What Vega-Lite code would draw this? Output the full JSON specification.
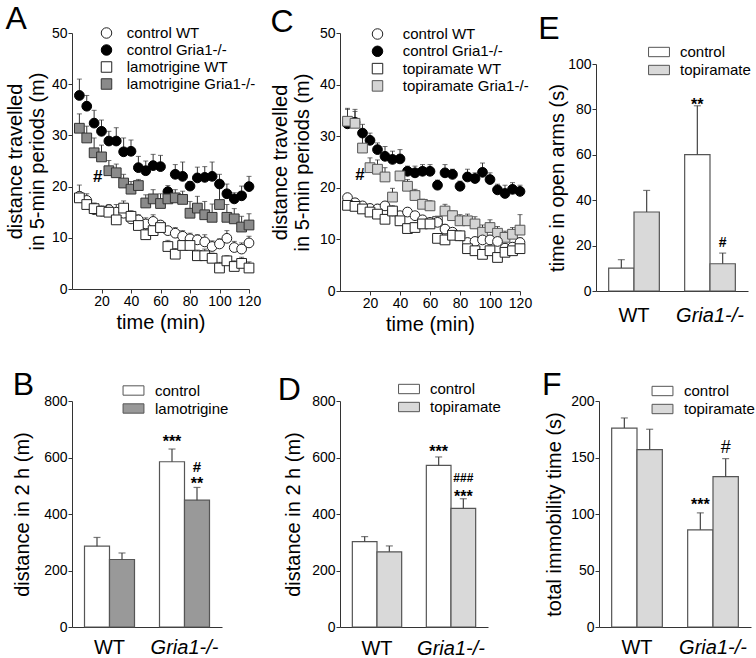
{
"$schema": "https://vega.github.io/schema/vega-lite/v6.json",
"background": "white",
"padding": {"left": 5, "top": 2, "right": 2, "bottom": 2},
"config": {
 "view": {"stroke": null},
 "font": "Liberation Sans",
 "axis": {"grid": false, "domainColor": "#333", "tickColor": "#333", "tickSize": 4, "labelFontSize": 14, "labelPadding": 1, "labelColor": "#000", "labelOverlap": false, "labelFlush": false, "titleFontSize": 20, "titleFontWeight": "normal", "titleColor": "#000", "labelFont": "Liberation Sans", "titleFont": "Liberation Sans"},
 "title": {"fontSize": 32, "fontWeight": "normal", "anchor": "start", "frame": "bounds", "font": "Liberation Sans", "color": "#000"},
 "legend": {"title": null, "orient": "none", "padding": 0, "offset": 0, "labelFontSize": 15, "labelFont": "Liberation Sans", "labelColor": "#000", "symbolOpacity": 1}
},
"datasets": {
 "A": [
  {"t":5,"m":37.8,"hi":41.0,"s":"control Gria1-/-"},{"t":10,"m":35.7,"hi":37.8,"s":"control Gria1-/-"},{"t":15,"m":32.4,"hi":34.9,"s":"control Gria1-/-"},{"t":20,"m":30.8,"hi":33.0,"s":"control Gria1-/-"},{"t":25,"m":28.9,"hi":30.8,"s":"control Gria1-/-"},{"t":30,"m":28.9,"hi":31.5,"s":"control Gria1-/-"},{"t":35,"m":26.8,"hi":29.5,"s":"control Gria1-/-"},{"t":40,"m":26.9,"hi":29.1,"s":"control Gria1-/-"},{"t":45,"m":23.7,"hi":25.9,"s":"control Gria1-/-"},{"t":50,"m":23.1,"hi":25.0,"s":"control Gria1-/-"},{"t":55,"m":24.1,"hi":26.3,"s":"control Gria1-/-"},{"t":60,"m":23.9,"hi":26.1,"s":"control Gria1-/-"},{"t":65,"m":19.0,"hi":20.2,"s":"control Gria1-/-"},{"t":70,"m":22.4,"hi":24.3,"s":"control Gria1-/-"},{"t":75,"m":22.0,"hi":24.8,"s":"control Gria1-/-"},{"t":80,"m":20.1,"hi":21.0,"s":"control Gria1-/-"},{"t":85,"m":21.7,"hi":23.8,"s":"control Gria1-/-"},{"t":90,"m":21.8,"hi":23.9,"s":"control Gria1-/-"},{"t":95,"m":22.0,"hi":24.8,"s":"control Gria1-/-"},{"t":100,"m":20.5,"hi":22.4,"s":"control Gria1-/-"},{"t":105,"m":18.6,"hi":20.5,"s":"control Gria1-/-"},{"t":110,"m":17.6,"hi":18.8,"s":"control Gria1-/-"},{"t":115,"m":18.2,"hi":20.1,"s":"control Gria1-/-"},{"t":120,"m":20.0,"hi":22.0,"s":"control Gria1-/-"},
  {"t":5,"m":31.4,"hi":34.2,"s":"lamotrigine Gria1-/-"},{"t":10,"m":29.5,"hi":31.8,"s":"lamotrigine Gria1-/-"},{"t":15,"m":26.6,"hi":29.5,"s":"lamotrigine Gria1-/-"},{"t":20,"m":25.8,"hi":28.1,"s":"lamotrigine Gria1-/-"},{"t":25,"m":23.1,"hi":25.1,"s":"lamotrigine Gria1-/-"},{"t":30,"m":22.7,"hi":24.4,"s":"lamotrigine Gria1-/-"},{"t":35,"m":20.7,"hi":22.4,"s":"lamotrigine Gria1-/-"},{"t":40,"m":19.5,"hi":21.0,"s":"lamotrigine Gria1-/-"},{"t":45,"m":20.2,"hi":21.4,"s":"lamotrigine Gria1-/-"},{"t":50,"m":16.8,"hi":18.4,"s":"lamotrigine Gria1-/-"},{"t":55,"m":17.6,"hi":19.4,"s":"lamotrigine Gria1-/-"},{"t":60,"m":16.7,"hi":18.6,"s":"lamotrigine Gria1-/-"},{"t":65,"m":17.6,"hi":19.1,"s":"lamotrigine Gria1-/-"},{"t":70,"m":17.8,"hi":19.4,"s":"lamotrigine Gria1-/-"},{"t":75,"m":17.5,"hi":19.1,"s":"lamotrigine Gria1-/-"},{"t":80,"m":14.8,"hi":17.1,"s":"lamotrigine Gria1-/-"},{"t":85,"m":15.8,"hi":18.1,"s":"lamotrigine Gria1-/-"},{"t":90,"m":14.5,"hi":17.1,"s":"lamotrigine Gria1-/-"},{"t":95,"m":14.0,"hi":16.6,"s":"lamotrigine Gria1-/-"},{"t":100,"m":16.5,"hi":19.7,"s":"lamotrigine Gria1-/-"},{"t":105,"m":14.0,"hi":16.5,"s":"lamotrigine Gria1-/-"},{"t":110,"m":13.7,"hi":15.7,"s":"lamotrigine Gria1-/-"},{"t":115,"m":12.1,"hi":14.2,"s":"lamotrigine Gria1-/-"},{"t":120,"m":12.5,"hi":14.7,"s":"lamotrigine Gria1-/-"},
  {"t":5,"m":18.1,"hi":20.3,"s":"control WT"},{"t":10,"m":17.3,"hi":18.6,"s":"control WT"},{"t":15,"m":15.5,"hi":16.8,"s":"control WT"},{"t":20,"m":15.2,"hi":16.1,"s":"control WT"},{"t":25,"m":15.5,"hi":16.5,"s":"control WT"},{"t":30,"m":15.0,"hi":16.5,"s":"control WT"},{"t":35,"m":14.8,"hi":15.8,"s":"control WT"},{"t":40,"m":13.7,"hi":14.6,"s":"control WT"},{"t":45,"m":13.5,"hi":14.5,"s":"control WT"},{"t":50,"m":12.7,"hi":13.9,"s":"control WT"},{"t":55,"m":13.2,"hi":14.5,"s":"control WT"},{"t":60,"m":12.5,"hi":13.3,"s":"control WT"},{"t":65,"m":11.4,"hi":12.2,"s":"control WT"},{"t":70,"m":10.9,"hi":12.0,"s":"control WT"},{"t":75,"m":10.3,"hi":11.4,"s":"control WT"},{"t":80,"m":9.8,"hi":10.9,"s":"control WT"},{"t":85,"m":9.6,"hi":10.6,"s":"control WT"},{"t":90,"m":9.2,"hi":10.6,"s":"control WT"},{"t":95,"m":8.3,"hi":9.4,"s":"control WT"},{"t":100,"m":8.8,"hi":9.8,"s":"control WT"},{"t":105,"m":9.9,"hi":11.4,"s":"control WT"},{"t":110,"m":8.1,"hi":9.3,"s":"control WT"},{"t":115,"m":7.8,"hi":9.0,"s":"control WT"},{"t":120,"m":9.0,"hi":10.3,"s":"control WT"},
  {"t":5,"m":17.8,"hi":19.0,"s":"lamotrigine WT"},{"t":10,"m":16.5,"hi":17.6,"s":"lamotrigine WT"},{"t":15,"m":15.7,"hi":16.7,"s":"lamotrigine WT"},{"t":20,"m":15.2,"hi":16.2,"s":"lamotrigine WT"},{"t":25,"m":15.0,"hi":16.0,"s":"lamotrigine WT"},{"t":30,"m":13.5,"hi":14.8,"s":"lamotrigine WT"},{"t":35,"m":15.8,"hi":17.2,"s":"lamotrigine WT"},{"t":40,"m":14.2,"hi":15.3,"s":"lamotrigine WT"},{"t":45,"m":12.4,"hi":13.5,"s":"lamotrigine WT"},{"t":50,"m":10.6,"hi":11.8,"s":"lamotrigine WT"},{"t":55,"m":11.4,"hi":12.8,"s":"lamotrigine WT"},{"t":60,"m":12.0,"hi":13.2,"s":"lamotrigine WT"},{"t":65,"m":8.3,"hi":9.5,"s":"lamotrigine WT"},{"t":70,"m":6.8,"hi":7.9,"s":"lamotrigine WT"},{"t":75,"m":8.5,"hi":9.8,"s":"lamotrigine WT"},{"t":80,"m":8.5,"hi":9.6,"s":"lamotrigine WT"},{"t":85,"m":6.5,"hi":7.6,"s":"lamotrigine WT"},{"t":90,"m":6.5,"hi":7.8,"s":"lamotrigine WT"},{"t":95,"m":6.0,"hi":7.0,"s":"lamotrigine WT"},{"t":100,"m":4.1,"hi":5.2,"s":"lamotrigine WT"},{"t":105,"m":5.5,"hi":6.5,"s":"lamotrigine WT"},{"t":110,"m":4.4,"hi":5.5,"s":"lamotrigine WT"},{"t":115,"m":5.0,"hi":6.2,"s":"lamotrigine WT"},{"t":120,"m":4.1,"hi":5.3,"s":"lamotrigine WT"}
 ],
 "C": [
  {"t":5,"m":32.4,"hi":35.4,"s":"control Gria1-/-"},{"t":10,"m":32.7,"hi":35.2,"s":"control Gria1-/-"},{"t":15,"m":30.6,"hi":32.3,"s":"control Gria1-/-"},{"t":20,"m":29.2,"hi":30.6,"s":"control Gria1-/-"},{"t":25,"m":27.4,"hi":28.7,"s":"control Gria1-/-"},{"t":30,"m":26.1,"hi":28.0,"s":"control Gria1-/-"},{"t":35,"m":25.5,"hi":27.1,"s":"control Gria1-/-"},{"t":40,"m":25.6,"hi":27.4,"s":"control Gria1-/-"},{"t":45,"m":23.2,"hi":24.2,"s":"control Gria1-/-"},{"t":50,"m":22.9,"hi":24.2,"s":"control Gria1-/-"},{"t":55,"m":23.2,"hi":24.5,"s":"control Gria1-/-"},{"t":60,"m":23.2,"hi":24.5,"s":"control Gria1-/-"},{"t":65,"m":20.5,"hi":21.5,"s":"control Gria1-/-"},{"t":70,"m":22.9,"hi":24.5,"s":"control Gria1-/-"},{"t":75,"m":22.6,"hi":23.6,"s":"control Gria1-/-"},{"t":80,"m":20.3,"hi":21.3,"s":"control Gria1-/-"},{"t":85,"m":22.1,"hi":23.6,"s":"control Gria1-/-"},{"t":90,"m":21.8,"hi":22.9,"s":"control Gria1-/-"},{"t":95,"m":23.0,"hi":24.8,"s":"control Gria1-/-"},{"t":100,"m":21.6,"hi":22.9,"s":"control Gria1-/-"},{"t":105,"m":19.6,"hi":20.7,"s":"control Gria1-/-"},{"t":110,"m":18.9,"hi":20.5,"s":"control Gria1-/-"},{"t":115,"m":19.7,"hi":21.0,"s":"control Gria1-/-"},{"t":120,"m":19.3,"hi":20.5,"s":"control Gria1-/-"},
  {"t":5,"m":32.9,"hi":35.2,"s":"topiramate Gria1-/-"},{"t":10,"m":32.5,"hi":34.8,"s":"topiramate Gria1-/-"},{"t":15,"m":27.7,"hi":30.3,"s":"topiramate Gria1-/-"},{"t":20,"m":23.9,"hi":25.8,"s":"topiramate Gria1-/-"},{"t":25,"m":23.6,"hi":25.4,"s":"topiramate Gria1-/-"},{"t":30,"m":22.1,"hi":23.9,"s":"topiramate Gria1-/-"},{"t":35,"m":18.2,"hi":19.9,"s":"topiramate Gria1-/-"},{"t":40,"m":22.3,"hi":23.0,"s":"topiramate Gria1-/-"},{"t":45,"m":20.3,"hi":21.6,"s":"topiramate Gria1-/-"},{"t":50,"m":18.5,"hi":19.7,"s":"topiramate Gria1-/-"},{"t":55,"m":16.8,"hi":17.8,"s":"topiramate Gria1-/-"},{"t":60,"m":16.5,"hi":17.5,"s":"topiramate Gria1-/-"},{"t":65,"m":13.5,"hi":14.5,"s":"topiramate Gria1-/-"},{"t":70,"m":15.5,"hi":16.8,"s":"topiramate Gria1-/-"},{"t":75,"m":14.6,"hi":15.5,"s":"topiramate Gria1-/-"},{"t":80,"m":13.6,"hi":14.8,"s":"topiramate Gria1-/-"},{"t":85,"m":13.6,"hi":14.9,"s":"topiramate Gria1-/-"},{"t":90,"m":13.0,"hi":14.4,"s":"topiramate Gria1-/-"},{"t":95,"m":11.4,"hi":12.8,"s":"topiramate Gria1-/-"},{"t":100,"m":12.3,"hi":13.8,"s":"topiramate Gria1-/-"},{"t":105,"m":11.2,"hi":12.5,"s":"topiramate Gria1-/-"},{"t":110,"m":10.4,"hi":11.6,"s":"topiramate Gria1-/-"},{"t":115,"m":11.0,"hi":12.3,"s":"topiramate Gria1-/-"},{"t":120,"m":11.8,"hi":14.8,"s":"topiramate Gria1-/-"},
  {"t":5,"m":18.1,"hi":18.9,"s":"control WT"},{"t":10,"m":17.1,"hi":17.9,"s":"control WT"},{"t":15,"m":16.5,"hi":17.3,"s":"control WT"},{"t":20,"m":16.0,"hi":16.8,"s":"control WT"},{"t":25,"m":15.9,"hi":16.8,"s":"control WT"},{"t":30,"m":16.5,"hi":17.3,"s":"control WT"},{"t":35,"m":15.5,"hi":16.3,"s":"control WT"},{"t":40,"m":14.6,"hi":15.4,"s":"control WT"},{"t":45,"m":15.3,"hi":16.1,"s":"control WT"},{"t":50,"m":14.6,"hi":15.3,"s":"control WT"},{"t":55,"m":13.8,"hi":14.6,"s":"control WT"},{"t":60,"m":13.3,"hi":14.0,"s":"control WT"},{"t":65,"m":13.3,"hi":14.2,"s":"control WT"},{"t":70,"m":12.0,"hi":12.9,"s":"control WT"},{"t":75,"m":11.4,"hi":12.2,"s":"control WT"},{"t":80,"m":10.7,"hi":11.5,"s":"control WT"},{"t":85,"m":9.4,"hi":10.2,"s":"control WT"},{"t":90,"m":9.6,"hi":10.4,"s":"control WT"},{"t":95,"m":9.9,"hi":10.8,"s":"control WT"},{"t":100,"m":9.9,"hi":10.8,"s":"control WT"},{"t":105,"m":9.6,"hi":10.5,"s":"control WT"},{"t":110,"m":8.3,"hi":9.2,"s":"control WT"},{"t":115,"m":8.5,"hi":9.4,"s":"control WT"},{"t":120,"m":9.4,"hi":10.3,"s":"control WT"},
  {"t":5,"m":16.6,"hi":17.5,"s":"topiramate WT"},{"t":10,"m":16.4,"hi":17.3,"s":"topiramate WT"},{"t":15,"m":15.9,"hi":16.8,"s":"topiramate WT"},{"t":20,"m":15.3,"hi":16.2,"s":"topiramate WT"},{"t":25,"m":14.9,"hi":15.8,"s":"topiramate WT"},{"t":30,"m":13.9,"hi":14.8,"s":"topiramate WT"},{"t":35,"m":15.5,"hi":16.5,"s":"topiramate WT"},{"t":40,"m":13.6,"hi":14.5,"s":"topiramate WT"},{"t":45,"m":12.1,"hi":13.0,"s":"topiramate WT"},{"t":50,"m":12.3,"hi":13.2,"s":"topiramate WT"},{"t":55,"m":13.0,"hi":13.9,"s":"topiramate WT"},{"t":60,"m":13.0,"hi":13.9,"s":"topiramate WT"},{"t":65,"m":10.2,"hi":11.0,"s":"topiramate WT"},{"t":70,"m":9.9,"hi":10.8,"s":"topiramate WT"},{"t":75,"m":10.8,"hi":11.6,"s":"topiramate WT"},{"t":80,"m":10.7,"hi":11.5,"s":"topiramate WT"},{"t":85,"m":8.2,"hi":9.1,"s":"topiramate WT"},{"t":90,"m":7.8,"hi":8.7,"s":"topiramate WT"},{"t":95,"m":7.1,"hi":8.0,"s":"topiramate WT"},{"t":100,"m":7.8,"hi":8.7,"s":"topiramate WT"},{"t":105,"m":6.5,"hi":7.4,"s":"topiramate WT"},{"t":110,"m":7.5,"hi":8.4,"s":"topiramate WT"},{"t":115,"m":7.8,"hi":8.7,"s":"topiramate WT"},{"t":120,"m":8.2,"hi":9.1,"s":"topiramate WT"}
 ],
 "Atxt": [{"t":17.4,"m":21.8,"label":"#"}],
 "Ctxt": [{"t":13.3,"m":22.4,"label":"#"}],
 "B": [{"g":"WT","tr":"control","m":286,"hi":317},{"g":"WT","tr":"lamotrigine","m":239,"hi":262},{"g":"Gria1-/-","tr":"control","m":585,"hi":630},{"g":"Gria1-/-","tr":"lamotrigine","m":449,"hi":494}],
 "Btxt": [{"g":"Gria1-/-","tr":"control","m":656,"label":"***"},{"g":"Gria1-/-","tr":"lamotrigine","m":567,"label":"#"},{"g":"Gria1-/-","tr":"lamotrigine","m":505,"label":"**"}],
 "D": [{"g":"WT","tr":"control","m":302,"hi":320},{"g":"WT","tr":"topiramate","m":266,"hi":287},{"g":"Gria1-/-","tr":"control","m":572,"hi":602},{"g":"Gria1-/-","tr":"topiramate","m":420,"hi":454}],
 "Dtxt": [{"g":"Gria1-/-","tr":"control","m":619,"label":"***"},{"g":"Gria1-/-","tr":"topiramate","m":528,"label":"###"},{"g":"Gria1-/-","tr":"topiramate","m":460,"label":"***"}],
 "E": [{"g":"WT","tr":"control","m":10.1,"hi":13.8},{"g":"WT","tr":"topiramate","m":34.8,"hi":44.3},{"g":"Gria1-/-","tr":"control","m":60.1,"hi":81.6},{"g":"Gria1-/-","tr":"topiramate","m":12.0,"hi":16.7}],
 "Etxt": [{"g":"Gria1-/-","tr":"control","m":82.1,"label":"**"},{"g":"Gria1-/-","tr":"topiramate","m":21.3,"label":"#"}],
 "F": [{"g":"WT","tr":"control","m":176,"hi":185},{"g":"WT","tr":"topiramate","m":157,"hi":175},{"g":"Gria1-/-","tr":"control","m":86,"hi":101},{"g":"Gria1-/-","tr":"topiramate","m":133,"hi":149}],
 "Ftxt": [{"g":"Gria1-/-","tr":"control","m":108,"label":"***"},{"g":"Gria1-/-","tr":"topiramate","m":158,"label":"#"}]
},
"vconcat": [
 {
  "hconcat": [
   {
    "width": 177, "height": 256,
    "title": {"text": "A", "offset": -10.4},
    "data": {"name": "A"},
    "encoding": {"x": {"field": "t", "type": "quantitative", "scale": {"domain": [0, 120], "nice": false}, "axis": {"values": [20,40,60,80,100,120], "title": "time (min)", "titlePadding": 4}}},
    "layer": [
     {"mark": {"type": "rule", "color": "#333", "strokeWidth": 1}, "encoding": {"y": {"field": "m", "type": "quantitative", "scale": {"domain": [0, 50], "nice": false}, "axis": {"values": [0,10,20,30,40,50], "title": ["distance travelled", "in 5-min periods (m)"], "titleLineHeight": 22, "titlePadding": 4}}, "y2": {"field": "hi"}}},
     {"mark": {"type": "tick", "orient": "horizontal", "size": 5, "thickness": 1, "color": "#333"}, "encoding": {"y": {"field": "hi", "type": "quantitative"}}},
     {"mark": {"type": "point", "filled": true, "size": 95, "opacity": 1, "strokeWidth": 1},
      "encoding": {"y": {"field": "m", "type": "quantitative"},
       "shape": {"field": "s", "type": "nominal", "scale": {"domain": ["control WT","control Gria1-/-","lamotrigine WT","lamotrigine Gria1-/-"], "range": ["circle","circle","square","square"]}, "legend": {"legendX": 27, "legendY": -7.5, "symbolSize": 110, "labelOffset": 12.75, "rowPadding": 1, "symbolStrokeWidth": 1}},
       "fill": {"field": "s", "type": "nominal", "scale": {"domain": ["control WT","control Gria1-/-","lamotrigine WT","lamotrigine Gria1-/-"], "range": ["#ffffff","#000000","#ffffff","#8a8a8a"]}, "legend": {"legendX": 27, "legendY": -7.5, "symbolSize": 110, "labelOffset": 12.75, "rowPadding": 1, "symbolStrokeWidth": 1}},
       "stroke": {"field": "s", "type": "nominal", "scale": {"domain": ["control WT","control Gria1-/-","lamotrigine WT","lamotrigine Gria1-/-"], "range": ["#222222","#000000","#222222","#333333"]}, "legend": {"legendX": 27, "legendY": -7.5, "symbolSize": 110, "labelOffset": 12.75, "rowPadding": 1, "symbolStrokeWidth": 1}}}},
     {"data": {"name": "Atxt"}, "mark": {"type": "text", "fontSize": 17, "fontWeight": "bold", "color": "#000"}, "encoding": {"y": {"field": "m", "type": "quantitative"}, "text": {"field": "label"}}}
    ]
   },
   {
    "hconcat": [
     {
      "width": 180, "height": 258,
      "title": {"text": "C", "offset": -12.9},
      "data": {"name": "C"},
      "encoding": {"x": {"field": "t", "type": "quantitative", "scale": {"domain": [0, 120], "nice": false}, "axis": {"values": [20,40,60,80,100,120], "title": "time (min)", "titlePadding": 4}}},
      "layer": [
       {"mark": {"type": "rule", "color": "#333", "strokeWidth": 1}, "encoding": {"y": {"field": "m", "type": "quantitative", "scale": {"domain": [0, 50], "nice": false}, "axis": {"values": [0,10,20,30,40,50], "title": ["distance travelled", "in 5-min periods (m)"], "titleLineHeight": 22, "titlePadding": 7}}, "y2": {"field": "hi"}}},
       {"mark": {"type": "tick", "orient": "horizontal", "size": 5, "thickness": 1, "color": "#333"}, "encoding": {"y": {"field": "hi", "type": "quantitative"}}},
       {"mark": {"type": "point", "filled": true, "size": 95, "opacity": 1, "strokeWidth": 1},
        "encoding": {"y": {"field": "m", "type": "quantitative"},
         "shape": {"field": "s", "type": "nominal", "scale": {"domain": ["control WT","control Gria1-/-","topiramate WT","topiramate Gria1-/-"], "range": ["circle","circle","square","square"]}, "legend": {"legendX": 30, "legendY": -6.5, "symbolSize": 110, "labelOffset": 17.75, "rowPadding": 1.3, "symbolStrokeWidth": 1}},
         "fill": {"field": "s", "type": "nominal", "scale": {"domain": ["control WT","control Gria1-/-","topiramate WT","topiramate Gria1-/-"], "range": ["#ffffff","#000000","#ffffff","#d4d4d4"]}, "legend": {"legendX": 30, "legendY": -6.5, "symbolSize": 110, "labelOffset": 17.75, "rowPadding": 1.3, "symbolStrokeWidth": 1}},
         "stroke": {"field": "s", "type": "nominal", "scale": {"domain": ["control WT","control Gria1-/-","topiramate WT","topiramate Gria1-/-"], "range": ["#222222","#000000","#222222","#555555"]}, "legend": {"legendX": 30, "legendY": -6.5, "symbolSize": 110, "labelOffset": 17.75, "rowPadding": 1.3, "symbolStrokeWidth": 1}}}},
       {"data": {"name": "Ctxt"}, "mark": {"type": "text", "fontSize": 17, "fontWeight": "bold", "color": "#000"}, "encoding": {"y": {"field": "m", "type": "quantitative"}, "text": {"field": "label"}}}
      ]
     },
     {
      "vconcat": [
       {"width": 152, "height": 31, "data": {"values": []}, "mark": {"type": "point", "opacity": 0}},
       {
        "width": 152, "height": 227,
        "title": {"text": "E", "offset": -1.5, "dx": -9.5},
        "data": {"name": "E"},
        "encoding": {
         "x": {"field": "g", "type": "nominal", "sort": ["WT", "Gria1-/-"], "scale": {"paddingInner": 0.3333, "paddingOuter": 0.1667}, "axis": {"title": null, "ticks": false, "tickSize": 0, "labelPadding": 14.5, "labelFontSize": 20, "labelAngle": 0, "labelFontStyle": {"condition": {"test": "datum.value === 'Gria1-/-'", "value": "italic"}, "value": "normal"}}},
         "xOffset": {"field": "tr", "type": "nominal", "sort": ["control", "topiramate"], "scale": {"paddingInner": 0, "paddingOuter": 0}}
        },
        "layer": [
         {"mark": {"type": "bar", "stroke": "#555", "strokeWidth": 1.2},
          "encoding": {"y": {"field": "m", "type": "quantitative", "scale": {"domain": [0, 100], "nice": false}, "axis": {"values": [0,20,40,60,80,100], "title": "time in open arms (s)", "titlePadding": 0}},
           "fill": {"field": "tr", "type": "nominal", "scale": {"domain": ["control", "topiramate"], "range": ["#ffffff", "#d9d9d9"]}, "legend": {"legendX": 55.5, "legendY": -19.5, "symbolType": "M-1.9,-0.85H1.9V0.85H-1.9Z", "symbolSize": 121, "symbolStrokeColor": "#555", "symbolStrokeWidth": 1, "labelOffset": 13.5, "rowPadding": 2}}}},
         {"mark": {"type": "rule", "color": "#444", "strokeWidth": 1.2}, "encoding": {"y": {"field": "m", "type": "quantitative"}, "y2": {"field": "hi"}}},
         {"mark": {"type": "tick", "orient": "horizontal", "size": 7, "thickness": 1.2, "color": "#444"}, "encoding": {"y": {"field": "hi", "type": "quantitative"}}},
         {"data": {"name": "Etxt"}, "transform": [{"filter": {"field": "label", "oneOf": ["**"]}}], "mark": {"type": "text", "fontSize": 16, "fontWeight": "bold", "color": "#000"}, "encoding": {"y": {"field": "m", "type": "quantitative"}, "text": {"field": "label"}}},
         {"data": {"name": "Etxt"}, "transform": [{"filter": {"field": "label", "oneOf": ["#"]}}], "mark": {"type": "text", "fontSize": 14, "fontWeight": "bold", "color": "#000"}, "encoding": {"y": {"field": "m", "type": "quantitative"}, "text": {"field": "label"}}}
        ]
       }
      ],
      "spacing": 0,
      "bounds": "flush",
      "resolve": {"scale": {"fill": "independent", "x": "independent", "y": "independent", "xOffset": "independent"}, "legend": {"fill": "independent"}}
     }
    ],
    "spacing": 6,
    "resolve": {"scale": {"fill": "independent", "stroke": "independent", "shape": "independent", "x": "independent", "y": "independent", "xOffset": "independent"}, "legend": {"fill": "independent", "stroke": "independent", "shape": "independent"}}
   }
  ],
  "spacing": 9,
  "resolve": {"scale": {"fill": "independent", "stroke": "independent", "shape": "independent", "x": "independent", "y": "independent", "xOffset": "independent"}, "legend": {"fill": "independent", "stroke": "independent", "shape": "independent"}}
 },
 {
  "hconcat": [
   {
    "width": 150, "height": 226,
    "title": {"text": "B", "offset": -19},
    "data": {"name": "B"},
    "encoding": {
     "x": {"field": "g", "type": "nominal", "sort": ["WT", "Gria1-/-"], "scale": {"paddingInner": 0.3333, "paddingOuter": 0.1667}, "axis": {"title": null, "ticks": false, "tickSize": 0, "labelPadding": 10, "labelFontSize": 20, "labelAngle": 0, "labelFontStyle": {"condition": {"test": "datum.value === 'Gria1-/-'", "value": "italic"}, "value": "normal"}}},
     "xOffset": {"field": "tr", "type": "nominal", "sort": ["control", "lamotrigine"], "scale": {"paddingInner": 0, "paddingOuter": 0}}
    },
    "layer": [
     {"mark": {"type": "bar", "stroke": "#555", "strokeWidth": 1.2},
      "encoding": {"y": {"field": "m", "type": "quantitative", "scale": {"domain": [0, 800], "nice": false}, "axis": {"values": [0,200,400,600,800], "title": "distance in 2 h  (m)", "titlePadding": 11}},
       "fill": {"field": "tr", "type": "nominal", "scale": {"domain": ["control", "lamotrigine"], "range": ["#ffffff", "#999999"]}, "legend": {"legendX": 54, "legendY": -18, "symbolType": "M-1.9,-0.85H1.9V0.85H-1.9Z", "symbolSize": 121, "symbolStrokeColor": "#555", "symbolStrokeWidth": 1, "labelOffset": 14, "rowPadding": 2}}}},
     {"mark": {"type": "rule", "color": "#444", "strokeWidth": 1.2}, "encoding": {"y": {"field": "m", "type": "quantitative"}, "y2": {"field": "hi"}}},
     {"mark": {"type": "tick", "orient": "horizontal", "size": 7, "thickness": 1.2, "color": "#444"}, "encoding": {"y": {"field": "hi", "type": "quantitative"}}},
     {"data": {"name": "Btxt"}, "transform": [{"filter": {"field": "label", "oneOf": ["***", "**"]}}], "mark": {"type": "text", "fontSize": 16, "fontWeight": "bold", "color": "#000"}, "encoding": {"y": {"field": "m", "type": "quantitative"}, "text": {"field": "label"}}},
     {"data": {"name": "Btxt"}, "transform": [{"filter": {"field": "label", "oneOf": ["#"]}}], "mark": {"type": "text", "fontSize": 15, "fontWeight": "bold", "color": "#000"}, "encoding": {"y": {"field": "m", "type": "quantitative"}, "text": {"field": "label"}}}
    ]
   },
   {
    "hconcat": [
     {
      "width": 148, "height": 226,
      "title": {"text": "D", "offset": -25.4, "dx": -6},
      "data": {"name": "D"},
      "encoding": {
       "x": {"field": "g", "type": "nominal", "sort": ["WT", "Gria1-/-"], "scale": {"paddingInner": 0.3333, "paddingOuter": 0.1667}, "axis": {"title": null, "ticks": false, "tickSize": 0, "labelPadding": 11.5, "labelFontSize": 20, "labelAngle": 0, "labelFontStyle": {"condition": {"test": "datum.value === 'Gria1-/-'", "value": "italic"}, "value": "normal"}}},
       "xOffset": {"field": "tr", "type": "nominal", "sort": ["control", "topiramate"], "scale": {"paddingInner": 0, "paddingOuter": 0}}
      },
      "layer": [
       {"mark": {"type": "bar", "stroke": "#555", "strokeWidth": 1.2},
        "encoding": {"y": {"field": "m", "type": "quantitative", "scale": {"domain": [0, 800], "nice": false}, "axis": {"values": [0,200,400,600,800], "title": "distance in 2 h  (m)", "titlePadding": 8}},
         "fill": {"field": "tr", "type": "nominal", "scale": {"domain": ["control", "topiramate"], "range": ["#ffffff", "#d9d9d9"]}, "legend": {"legendX": 61.5, "legendY": -19.5, "symbolType": "M-1.9,-0.85H1.9V0.85H-1.9Z", "symbolSize": 121, "symbolStrokeColor": "#555", "symbolStrokeWidth": 1, "labelOffset": 13.5, "rowPadding": 2}}}},
       {"mark": {"type": "rule", "color": "#444", "strokeWidth": 1.2}, "encoding": {"y": {"field": "m", "type": "quantitative"}, "y2": {"field": "hi"}}},
       {"mark": {"type": "tick", "orient": "horizontal", "size": 7, "thickness": 1.2, "color": "#444"}, "encoding": {"y": {"field": "hi", "type": "quantitative"}}},
       {"data": {"name": "Dtxt"}, "transform": [{"filter": {"field": "label", "oneOf": ["***"]}}], "mark": {"type": "text", "fontSize": 16, "fontWeight": "bold", "color": "#000"}, "encoding": {"y": {"field": "m", "type": "quantitative"}, "text": {"field": "label"}}},
       {"data": {"name": "Dtxt"}, "transform": [{"filter": {"field": "label", "oneOf": ["###"]}}], "mark": {"type": "text", "fontSize": 12, "fontWeight": "bold", "color": "#000"}, "encoding": {"y": {"field": "m", "type": "quantitative"}, "text": {"field": "label"}}}
      ]
     },
     {
      "width": 152, "height": 226,
      "title": {"text": "F", "offset": -18.4, "dx": -2.6},
      "data": {"name": "F"},
      "encoding": {
       "x": {"field": "g", "type": "nominal", "sort": ["WT", "Gria1-/-"], "scale": {"paddingInner": 0.3333, "paddingOuter": 0.1667}, "axis": {"title": null, "ticks": false, "tickSize": 0, "labelPadding": 10, "labelFontSize": 20, "labelAngle": 0, "labelFontStyle": {"condition": {"test": "datum.value === 'Gria1-/-'", "value": "italic"}, "value": "normal"}}},
       "xOffset": {"field": "tr", "type": "nominal", "sort": ["control", "topiramate"], "scale": {"paddingInner": 0, "paddingOuter": 0}}
      },
      "layer": [
       {"mark": {"type": "bar", "stroke": "#555", "strokeWidth": 1.2},
        "encoding": {"y": {"field": "m", "type": "quantitative", "scale": {"domain": [0, 200], "nice": false}, "axis": {"values": [0,50,100,150,200], "title": "total immobility time  (s)", "titlePadding": 6}},
         "fill": {"field": "tr", "type": "nominal", "scale": {"domain": ["control", "topiramate"], "range": ["#ffffff", "#d9d9d9"]}, "legend": {"legendX": 56, "legendY": -17.5, "symbolType": "M-1.9,-0.85H1.9V0.85H-1.9Z", "symbolSize": 121, "symbolStrokeColor": "#555", "symbolStrokeWidth": 1, "labelOffset": 14, "rowPadding": 2}}}},
       {"mark": {"type": "rule", "color": "#444", "strokeWidth": 1.2}, "encoding": {"y": {"field": "m", "type": "quantitative"}, "y2": {"field": "hi"}}},
       {"mark": {"type": "tick", "orient": "horizontal", "size": 7, "thickness": 1.2, "color": "#444"}, "encoding": {"y": {"field": "hi", "type": "quantitative"}}},
       {"data": {"name": "Ftxt"}, "transform": [{"filter": {"field": "label", "oneOf": ["***"]}}], "mark": {"type": "text", "fontSize": 16, "fontWeight": "bold", "color": "#000"}, "encoding": {"y": {"field": "m", "type": "quantitative"}, "text": {"field": "label"}}},
       {"data": {"name": "Ftxt"}, "transform": [{"filter": {"field": "label", "oneOf": ["#"]}}], "mark": {"type": "text", "fontSize": 18, "fontWeight": "normal", "color": "#000"}, "encoding": {"y": {"field": "m", "type": "quantitative"}, "text": {"field": "label"}}}
      ]
     }
    ],
    "spacing": 40,
    "resolve": {"scale": {"fill": "independent", "stroke": "independent", "shape": "independent", "x": "independent", "y": "independent", "xOffset": "independent"}, "legend": {"fill": "independent", "stroke": "independent", "shape": "independent"}}
   }
  ],
  "spacing": 48,
  "resolve": {"scale": {"fill": "independent", "stroke": "independent", "shape": "independent", "x": "independent", "y": "independent", "xOffset": "independent"}, "legend": {"fill": "independent", "stroke": "independent", "shape": "independent"}}
 }
],
"spacing": 34,
"resolve": {"scale": {"fill": "independent", "stroke": "independent", "shape": "independent", "x": "independent", "y": "independent", "xOffset": "independent"}, "legend": {"fill": "independent", "stroke": "independent", "shape": "independent"}}
}
